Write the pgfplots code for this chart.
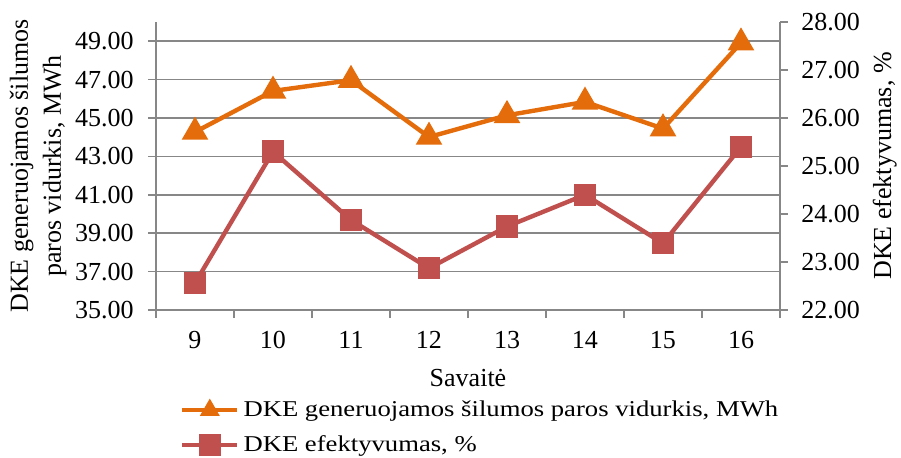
\documentclass[border=0pt]{standalone}
\usepackage{fontspec}
\setmainfont{Liberation Serif}[FakeStretch=1.18]
\newfontfamily\tickfam{Liberation Serif}
\usepackage{pgfplots}
\pgfplotsset{compat=1.18}
\definecolor{cOrange}{HTML}{E46C0A}
\definecolor{cRed}{HTML}{C0504D}
\definecolor{cGrid}{HTML}{878787}
\newcommand\chartfont{\fontsize{11.3}{16.5}\selectfont}
\newcommand\tickfont{\tickfam\fontsize{13}{15}\selectfont}
\newcommand\labelfont{\tickfam\fontsize{13}{16.5}\selectfont}
\pgfplotsset{
  common/.style={
    scale only axis, width=312pt, height=144pt,
    xmin=-0.5, xmax=7.5,
    axis line style={cGrid, line width=0.75pt, -},
    tick style={cGrid, line width=0.75pt},
    tick align=outside, major tick length=4pt, minor tick length=4pt,
    every tick label/.append style={font=\tickfont, text=black},
    /pgf/number format/assume math mode=true,
    y tick label style={/pgf/number format/fixed, /pgf/number format/fixed zerofill, /pgf/number format/precision=2},
    label style={font=\labelfont},
  },
}
\begin{document}
\begin{tikzpicture}
\useasboundingbox (-78pt,-73.5pt) rectangle (372.5pt,155pt);
\begin{axis}[common,
  ymin=35, ymax=50,
  axis y line*=left, axis x line*=bottom,
  xtick={0,...,7}, xticklabels={9,10,11,12,13,14,15,16},
  major x tick style={draw=none},
  minor xtick={-0.5,0.5,...,7.5},
  xticklabel style={anchor=center, yshift=-11pt},
  yticklabel style={xshift=-3.7pt},
  ytick={35,37,...,49},
  ymajorgrids, grid style={cGrid, line width=0.75pt},
  xlabel={Savaitė},
  xlabel style={at={(axis description cs:0.5,-0.236)}, anchor=center},
  ylabel={DKE generuojamos šilumos\\paros vidurkis, MWh},
  ylabel style={align=center, at={(axis description cs:-0.189,0.5)}, anchor=center},
]
\addplot[cOrange, line width=2.2pt, mark=triangle*, mark size=5.5pt, mark options={solid}]
  coordinates {(0,44.27) (1,46.41) (2,46.97) (3,44.01) (4,45.14) (5,45.84) (6,44.45) (7,48.92)};
\end{axis}
\begin{axis}[common,
  ymin=22, ymax=28,
  axis y line*=right, axis x line=none,
  ytick={22,...,28},
  yticklabel style={xshift=3.2pt},
  ylabel={DKE efektyvumas, \%},
  ylabel style={at={(axis description cs:1.168,0.5)}, anchor=center},
  legend style={draw=none, fill=none, font=\chartfont, at={(axis description cs:0.038,-0.30)}, anchor=north west,
    row sep=4pt, inner sep=0pt},
  legend cell align=left,
  legend image code/.code={
    \draw[mark repeat=2, mark phase=2] plot coordinates {(0pt,0pt) (13.75pt,0pt) (27.5pt,0pt)};
  },
]
\addlegendimage{cOrange, line width=2.2pt, mark=triangle*, mark size=3.6pt}
\addlegendentry{DKE generuojamos šilumos paros vidurkis, MWh}
\addplot[cRed, line width=2.2pt, mark=square*, mark size=4.5pt]
  coordinates {(0,22.56) (1,25.30) (2,23.875) (3,22.87) (4,23.74) (5,24.40) (6,23.39) (7,25.40)};
\addlegendentry{DKE efektyvumas, \%}
\end{axis}
\end{tikzpicture}
\end{document}
